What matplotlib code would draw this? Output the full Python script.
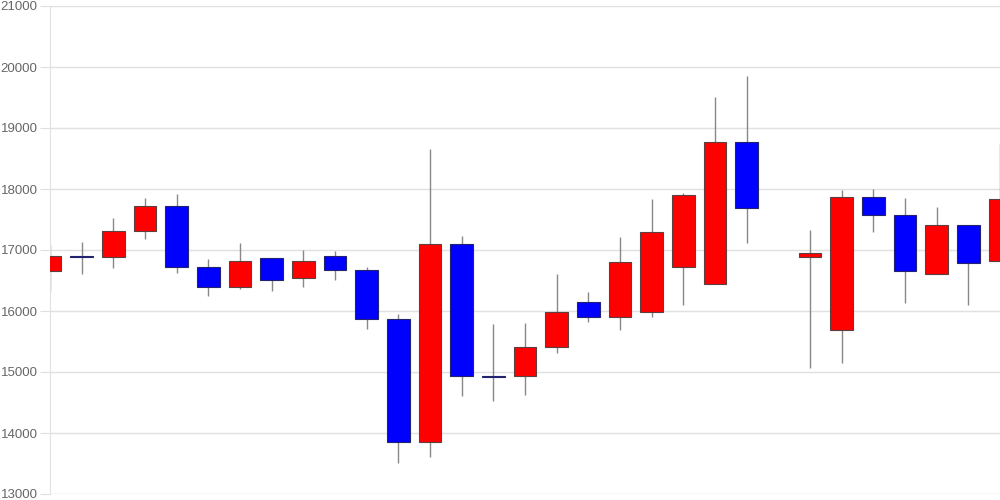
import numpy as np
import matplotlib
matplotlib.use("Agg")
import matplotlib.pyplot as plt

# valores (indice 23 sin datos)
aperturas = [16656, 16895, 16880, 17311, 17721, 16716, 16389, 16864, 16541, 16902,
             16667, 15869, 13848, 17093, 14935, 14930, 15405, 16143, 15902, 15978,
             16721, 16438, 18776, np.nan, 16880, 15683, 17874, 17569, 16607, 17410,
             16825]
maximos = [17082, 17136, 17519, 17848, 17918, 16852, 17110, 16864, 17000, 16989,
           16716, 15946, 18651, 17230, 15792, 15803, 16607, 16307, 17208, 17831,
           17929, 19503, 19852, np.nan, 17323, 17984, 17995, 17848, 17700, 17410,
           18738]
minimos = [16328, 16607, 16700, 17175, 16628, 16251, 16356, 16333, 16399, 16503,
           15710, 13508, 13602, 14602, 14520, 14628, 15317, 15825, 15683, 15907,
           16104, 16438, 17110, np.nan, 15070, 15148, 17300, 16126, 16607, 16093,
           16825]
cierres = [16902, 16885, 17311, 17721, 16716, 16389, 16825, 16503, 16815, 16667,
           15869, 13848, 17093, 14930, 14925, 15405, 15984, 15902, 16798, 17290,
           17902, 18776, 17683, np.nan, 16951, 17874, 17569, 16651, 17410, 16792,
           17841]

fig = plt.figure(figsize=(10, 5), dpi=100)
ax = fig.add_axes([0.05, 0.012, 0.95, 0.976])

x = np.arange(len(aperturas))
ap = np.array(aperturas, dtype=float)
ci = np.array(cierres, dtype=float)
mx = np.array(maximos, dtype=float)
mn = np.array(minimos, dtype=float)

ok = ~np.isnan(ap)
sube = ci >= ap
colores = np.where(sube, "#ff0000", "#0000ff")
bordes = np.where(sube, "#5c4040", "#22226e")

# mechas
ax.vlines(x[ok], mn[ok], mx[ok], color="#888888", linewidth=1, zorder=2)
# cuerpos (minimo visible para las velas doji)
minimo_cuerpo = 20
alto = np.abs(ci - ap)
base = np.minimum(ap, ci)
base = np.where(alto < minimo_cuerpo, (ap + ci) / 2 - minimo_cuerpo / 2, base)
alto = np.where(alto < minimo_cuerpo, minimo_cuerpo, alto)
ax.bar(x[ok], alto[ok], bottom=base[ok], width=0.72, color=colores[ok],
       edgecolor=bordes[ok], linewidth=0.8, zorder=3)

ax.set_xlim(0, 30)
ax.set_ylim(13000, 21000)
ax.set_yticks(range(13000, 21001, 1000))
ax.set_xticks([])
ax.grid(axis="y", color="#e0e0e0", linewidth=1, zorder=0)
ax.set_axisbelow(True)

for s in ["top", "right", "bottom"]:
    ax.spines[s].set_visible(False)
ax.spines["left"].set_color("#e0e0e0")

ax.tick_params(axis="y", length=7, color="#e0e0e0", pad=2,
               labelsize=9.5, labelcolor="#666666")
for lab in ax.get_yticklabels():
    lab.set_fontfamily("Liberation Sans")

fig.savefig("out.png", dpi=100)
